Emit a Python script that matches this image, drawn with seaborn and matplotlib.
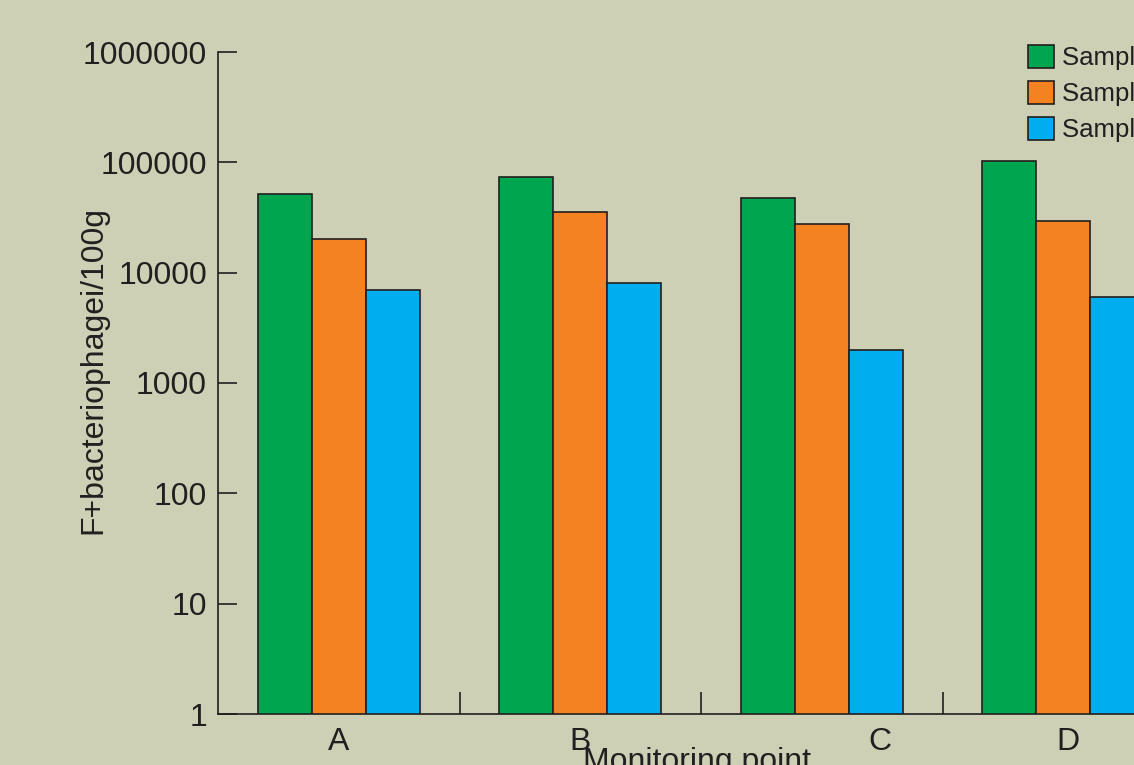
import matplotlib
matplotlib.use("Agg")
import matplotlib.pyplot as plt
import seaborn as sns
import pandas as pd

# Monitoring points and sampling rounds
points = ["A", "B", "C", "D"]
samples = ["Sample 1", "Sample 2", "Sample 3"]

# F+ bacteriophage counts per 100 g
sample1 = [52000, 74000, 47500, 103000]
sample2 = [20000, 35500, 27600, 29400]
sample3 = [7000, 8000, 2000, 6000]

y_ticks = [1, 10, 100, 1000, 10000, 100000, 1000000]
y_tick_labels = ["1", "10", "100", "1000", "10000", "100000", "1000000"]
x_label_pos = [0.0, 1.0, 2.24, 3.02]

df = pd.DataFrame({
    "point": points * 3,
    "sample": [s for s in samples for _ in points],
    "count": sample1 + sample2 + sample3,
})

bg = "#CDD0B4"
ink = "#231F20"
colors = ["#00A54F", "#F58220", "#00AEEF"]

sns.set_style("ticks")
plt.rcParams["font.family"] = ["Liberation Sans", "DejaVu Sans"]

fig = plt.figure(figsize=(11.34, 7.65), dpi=100, facecolor=bg)
ax = fig.add_axes([218 / 1134, 1 - 714 / 765, (1184 - 218) / 1134, 662 / 765])
ax.set_facecolor(bg)
ax.set_yscale("log")

sns.barplot(data=df, x="point", y="count", hue="sample", hue_order=samples,
            palette=colors, saturation=1, width=0.67, gap=0, edgecolor=ink,
            linewidth=1.2, errorbar=None, ax=ax)

ax.set_ylim(1, 1e6)
ax.set_xlim(-0.5, 3.5)

for side in ["top", "right"]:
    ax.spines[side].set_visible(False)
for side in ["left", "bottom"]:
    ax.spines[side].set_color(ink)
    ax.spines[side].set_linewidth(1.2)

ax.set_yticks(y_ticks, labels=y_tick_labels)
ax.yaxis.set_minor_locator(matplotlib.ticker.NullLocator())
ax.tick_params(axis="y", which="major", direction="in", length=14, width=1.2,
               color=ink, labelsize=23, labelcolor=ink, pad=8)

ax.set_xticks(x_label_pos, labels=points)
ax.set_xticks([0.5, 1.5, 2.5], minor=True)
ax.tick_params(axis="x", which="major", length=0, labelsize=23,
               labelcolor=ink, pad=9)
ax.tick_params(axis="x", which="minor", direction="in", length=16, width=1.2,
               color=ink)

ax.set_ylabel("F+bacteriophagei/100g", fontsize=23, color=ink)
ax.yaxis.set_label_coords(-0.114, 0.52)
ax.set_xlabel("Monitoring point", fontsize=23, color=ink, va="top")
ax.xaxis.set_label_coords(0.496, -0.05)

sns.move_legend(ax, "upper left", bbox_to_anchor=(1028 / 1134, 1 - 45 / 765),
                bbox_transform=fig.transFigure, frameon=False, title=None,
                fontsize=18.5, handlelength=1.02, handleheight=0.98,
                labelspacing=0.42, handletextpad=0.3, borderpad=0,
                borderaxespad=0)
for t in ax.get_legend().get_texts():
    t.set_color(ink)

fig.savefig("out.png", dpi=100, facecolor=bg)
